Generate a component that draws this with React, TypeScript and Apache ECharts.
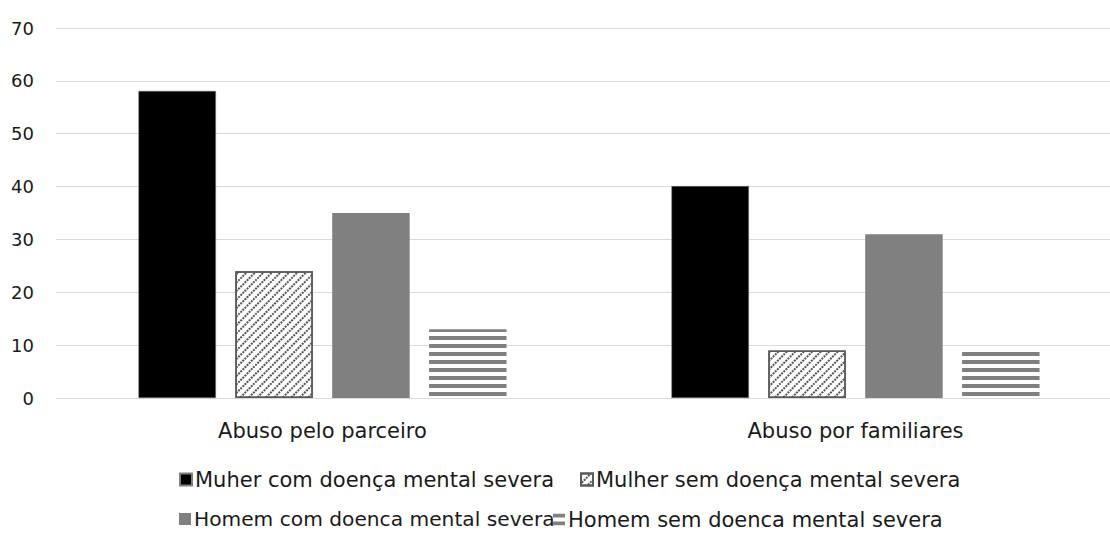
import React, { useEffect, useRef } from "react";
import * as echarts from "echarts";

const categories = ["Abuso pelo parceiro", "Abuso por familiares"];
const seriesNames = [
  "Muher com doença mental severa",
  "Mulher sem doença mental severa",
  "Homem com doenca mental severa",
  "Homem sem doenca mental severa",
];
const mulherCom = [58.1, 40.1];
const mulherSem = [24, 9];
const homemCom = [35, 31];
const homemSem = [13, 8.7];
const yTicks = [0, 10, 20, 30, 40, 50, 60, 70];

const FONT = "DejaVu Sans";
const TXT = "#1a1a1a";

export default function App() {
  const ref = useRef<HTMLDivElement>(null);
  useEffect(() => {
    if (!ref.current) return;
    const chart = echarts.init(ref.current, undefined, { renderer: "svg" });
    const hatchDecal = {
      symbol: "rect",
      color: "#555555",
      dashArrayX: [[2, 1]],
      dashArrayY: [1.2, 3.2],
      rotation: -Math.PI / 4,
      symbolSize: 1,
    };
    const stripeDecal = {
      symbol: "rect",
      color: "#808080",
      dashArrayX: [1, 0],
      dashArrayY: [4, 4],
      rotation: 0,
      symbolSize: 1,
    };
    const legendBase = (size: number) => ({
      icon: "rect",
      itemWidth: 12,
      itemHeight: 12,
      itemGap: 4,
      textStyle: { fontFamily: FONT, fontSize: size, color: TXT, padding: [0, 0, 0, -2] },
      padding: 0,
    });
    chart.setOption({
      animation: false,
      backgroundColor: "#ffffff",
      grid: { left: 56, top: 28, width: 1066, height: 370, containLabel: false },
      legend: [
        { ...legendBase(21), left: 179, top: 469, data: [seriesNames[0]] },
        { ...legendBase(21), left: 580, top: 469, data: [seriesNames[1]] },
        { ...legendBase(20.2), left: 179, top: 509, data: [seriesNames[2]] },
        { ...legendBase(21), left: 553, top: 509, data: [seriesNames[3]] },
      ],
      xAxis: {
        type: "category",
        data: categories,
        axisLine: { show: true, lineStyle: { color: "#d9d9d9", width: 1 } },
        axisTick: { show: false },
        axisLabel: { fontFamily: FONT, fontSize: 21, color: TXT, margin: 22 },
      },
      yAxis: {
        type: "value",
        min: 0,
        max: 70,
        interval: 10,
        axisLine: { show: false },
        axisTick: { show: false },
        splitLine: { lineStyle: { color: "#d9d9d9", width: 1 } },
        axisLabel: {
          fontFamily: FONT,
          fontSize: 18,
          color: TXT,
          margin: 22,
          formatter: (v: number) => (yTicks.includes(v) ? String(v) : ""),
        },
      },
      series: [
        {
          name: seriesNames[0],
          type: "bar",
          data: mulherCom,
          barWidth: 77.5,
          barGap: "25%",
          itemStyle: { color: "#000000", borderColor: "#7f7f7f", borderWidth: 0.5 },
        },
        {
          name: seriesNames[1],
          type: "bar",
          data: mulherSem,
          barWidth: 77.5,
          barGap: "25%",
          itemStyle: { color: "#ffffff", borderColor: "#595959", borderWidth: 1.5, decal: hatchDecal },
        },
        {
          name: seriesNames[2],
          type: "bar",
          data: homemCom,
          barWidth: 77.5,
          barGap: "25%",
          itemStyle: { color: "#808080" },
        },
        {
          name: seriesNames[3],
          type: "bar",
          data: homemSem,
          barWidth: 77.5,
          barGap: "25%",
          itemStyle: { color: "#ffffff", decal: stripeDecal },
        },
      ],
    });
    return () => chart.dispose();
  }, []);
  return (
    <div
      style={{
        position: "fixed",
        left: 0,
        top: 0,
        width: 1110,
        height: 533,
        overflow: "hidden",
        background: "#fff",
      }}
    >
      <div ref={ref} style={{ width: 1122, height: 533 }} />
    </div>
  );
}
